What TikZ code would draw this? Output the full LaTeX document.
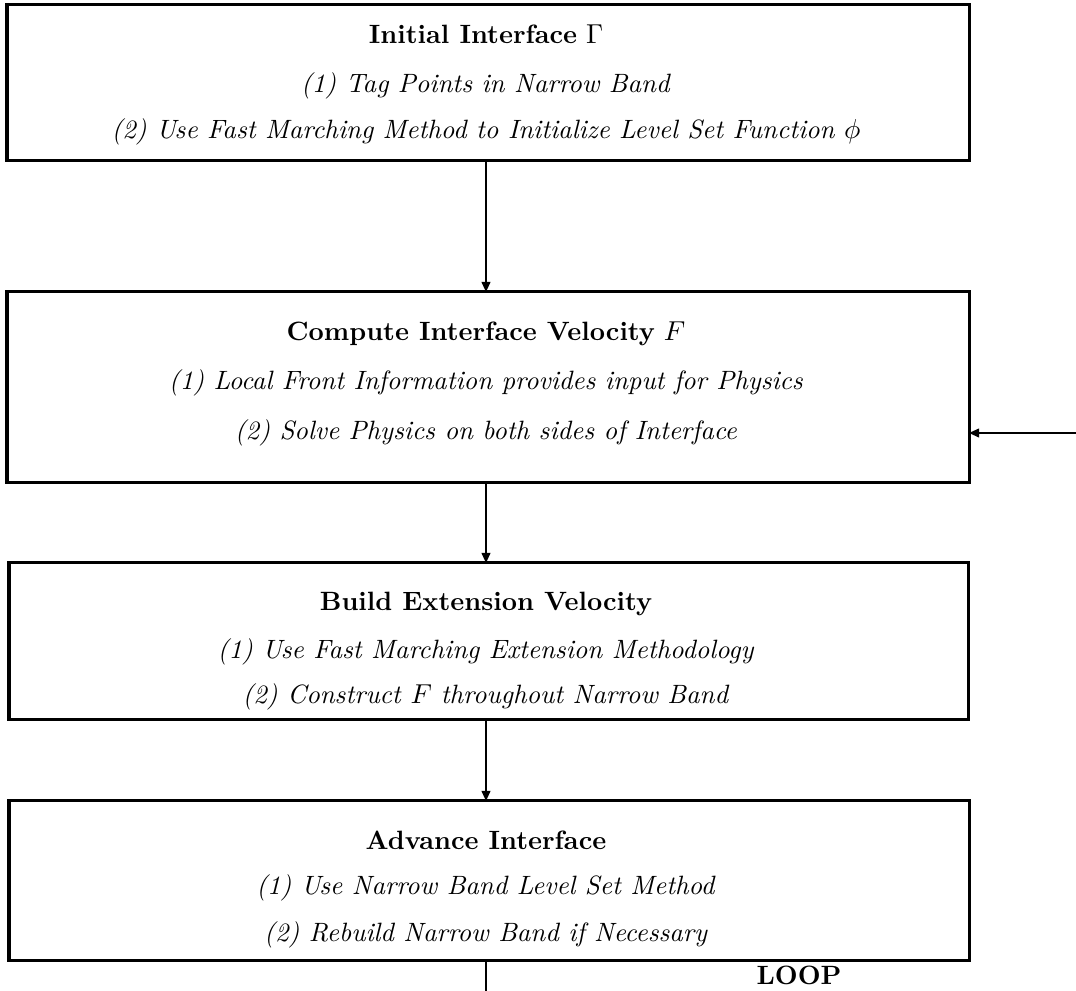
\documentclass[tikz,border=0pt]{standalone}
\usetikzlibrary{arrows.meta}
\begin{document}
\begin{tikzpicture}[x=0.4pt,y=-0.4pt,
  boxst/.style={draw,line width=1.2pt},
  conn/.style={line width=0.6pt,-{Triangle[length=4pt,width=3.5pt]}},
  txt/.style={inner sep=0pt,anchor=base,font=\fontsize{10.6}{12}\selectfont}]
\useasboundingbox (0,0) rectangle (1076,991);
% boxes
\draw[boxst] (7,5) rectangle (969,161);
\coordinate (b1) at (486,161);
\draw[boxst] (7,292) rectangle (969,483);
\coordinate (b2t) at (486,292); \coordinate (b2b) at (486,483); \coordinate (b2r) at (969,433);
\draw[boxst] (9,563) rectangle (968,720);
\coordinate (b3t) at (486,563); \coordinate (b3b) at (486,720);
\draw[boxst] (9,801) rectangle (969,961);
\coordinate (b4t) at (486,801); \coordinate (b4b) at (486,961);
\coordinate (loopend) at (486,991);
\coordinate (rin) at (1076,433);
% texts
\node[txt] (t1) at (486,44) {\textbf{Initial Interface} $\Gamma$};
\node[txt] (t1a) at (486,93) {\textit{(1) Tag Points in Narrow Band}};
\node[txt] (t1b) at (486,139) {\textit{(2) Use Fast Marching Method to Initialize Level Set Function} $\phi$};
\node[txt] (t2) at (486,341) {\textbf{Compute Interface Velocity} $F$};
\node[txt] (t2a) at (486,390) {\textit{(1) Local Front Information provides input for Physics}};
\node[txt] (t2b) at (486,440) {\textit{(2) Solve Physics on both sides of Interface}};
\node[txt] (t3) at (486,611) {\textbf{Build Extension Velocity}};
\node[txt] (t3a) at (486,659) {\textit{(1) Use Fast Marching Extension Methodology}};
\node[txt] (t3b) at (486,704) {\textit{(2) Construct} $F$ \textit{throughout Narrow Band}};
\node[txt] (t4) at (486,850) {\textbf{Advance Interface}};
\node[txt] (t4a) at (486,895) {\textit{(1) Use Narrow Band Level Set Method}};
\node[txt] (t4b) at (486,942) {\textit{(2) Rebuild Narrow Band if Necessary}};
\node[txt] (loop) at (799,985) {\textbf{LOOP}};
% connectors
\draw[conn] (b1) -- (b2t);
\draw[conn] (b2b) -- (b3t);
\draw[conn] (b3b) -- (b4t);
\draw[conn] (rin) -- (b2r);
\draw[line width=0.6pt] (b4b) -- (loopend);
\end{tikzpicture}
\end{document}
